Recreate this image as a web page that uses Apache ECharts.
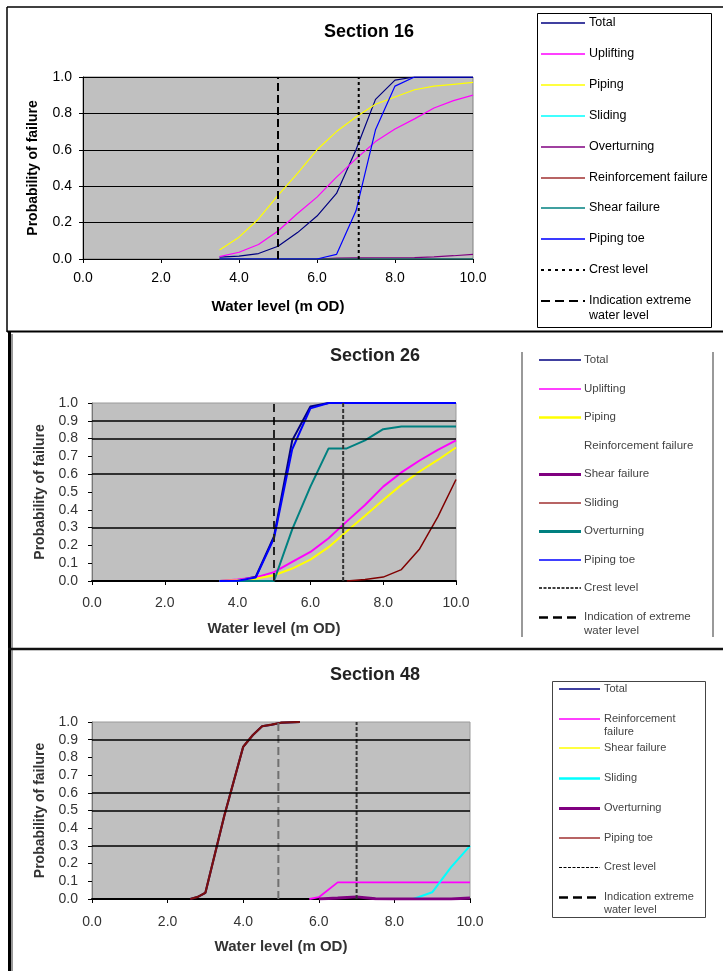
<!DOCTYPE html>
<html>
<head>
<meta charset="utf-8">
<title>Probability of failure by water level</title>
<script src="https://cdn.jsdelivr.net/npm/echarts@6/dist/echarts.min.js"></script>
<style>
  html, body { margin: 0; padding: 0; background: #fff; }
  #chart { width: 723px; height: 971px; }
</style>
</head>
<body>
<div id="chart"></div>
<script>
// ---------- Section 16 ----------
const levels16 = [3.5, 4, 4.5, 5, 5.5, 6, 6.5, 7, 7.5, 8, 8.5, 9, 9.5, 10];
const total16 = [0.01, 0.016, 0.03, 0.07, 0.145, 0.236, 0.36, 0.6, 0.877, 0.983, 1, 1, 1, 1];
const uplifting16 = [0.013, 0.037, 0.08, 0.154, 0.25, 0.34, 0.45, 0.55, 0.645, 0.714, 0.77, 0.83, 0.87, 0.9];
const piping16 = [0.05, 0.12, 0.22, 0.35, 0.47, 0.6, 0.7, 0.78, 0.85, 0.89, 0.93, 0.95, 0.96, 0.97];
const sliding16 = [0, 0, 0, 0, 0, 0, 0, 0, 0, 0, 0, 0, 0, 0];
const overturning16 = [0, 0, 0, 0, 0, 0, 0.005, 0.006, 0.007, 0.007, 0.008, 0.012, 0.018, 0.025];
const reinforcement16 = [0, 0, 0, 0, 0, 0, 0, 0, 0, 0, 0, 0, 0, 0];
const shear16 = [0, 0, 0, 0, 0, 0, 0, 0, 0, 0, 0, 0, 0, 0];
const pipingToe16 = [0, 0, 0, 0, 0, 0, 0.025, 0.265, 0.71, 0.95, 1, 1, 1, 1];
const crest16 = 7.07;
const extreme16 = 5.0;

// ---------- Section 26 ----------
const levels26 = [3.5, 4, 4.5, 5, 5.5, 6, 6.5, 7, 7.5, 8, 8.5, 9, 9.5, 10];
const total26 = [0, 0.003, 0.024, 0.25, 0.79, 0.98, 1, 1, 1, 1, 1, 1, 1, 1];
const uplifting26 = [0, 0.008, 0.02, 0.05, 0.107, 0.163, 0.24, 0.335, 0.427, 0.53, 0.61, 0.677, 0.737, 0.79];
const piping26 = [0, 0.004, 0.013, 0.032, 0.07, 0.12, 0.19, 0.28, 0.367, 0.455, 0.54, 0.615, 0.68, 0.75];
const sliding26 = [null, null, null, null, null, null, null, 0, 0.008, 0.022, 0.064, 0.18, 0.36, 0.57];
const overturning26 = [0, 0, 0, 0, 0.29, 0.53, 0.745, 0.745, 0.79, 0.853, 0.868, 0.868, 0.868, 0.868];
const pipingToe26 = [0, 0.002, 0.02, 0.24, 0.74, 0.97, 1, 1, 1, 1, 1, 1, 1, 1];
const crest26 = 6.9;
const extreme26 = 5.0;
const gridLines26 = [0.3, 0.6, 0.8, 0.9];

// ---------- Section 48 ----------
const pipingToeLevels48 = [2.6, 2.8, 3.0, 3.5, 4.0, 4.25, 4.5, 4.75, 5.0, 5.5];
const pipingToe48 = [0, 0.012, 0.035, 0.47, 0.86, 0.925, 0.976, 0.985, 0.996, 1.0];
const total48 = [0, 0.012, 0.035, 0.47, 0.86, 0.925, 0.976, 0.985, 0.996, 1.0];
const reinforcementLevels48 = [5.75, 6.0, 6.5, 7.0, 7.5, 8.0, 8.5, 9.0, 9.5, 10];
const reinforcement48 = [0, 0.01, 0.094, 0.094, 0.094, 0.094, 0.094, 0.094, 0.094, 0.094];
const slidingLevels48 = [8.5, 9.0, 9.5, 10];
const sliding48 = [0, 0.038, 0.18, 0.3];
const overturningLevels48 = [6.0, 6.5, 7.0, 7.5, 8.0, 9.5, 10];
const overturning48 = [0, 0.005, 0.012, 0.002, 0, 0, 0.005];
const crest48 = 7.0;
const extreme48 = 4.93;
const gridLines48 = [0.3, 0.5, 0.6, 0.9];

// shared axis ranges
const xRange = [0, 10];
const yRange = [0, 1];

const FONT = '"Liberation Sans", Arial, sans-serif';
const NAVY = '#000080', MAGENTA = '#FF00FF', YELLOW = '#FFFF00', CYAN = '#00FFFF',
      PURPLE = '#800080', DARKRED = '#800000', TEAL = '#008080', BLUE = '#0000FF';

const pairs = (xs, ys) => xs.map((x, i) => [x, ys[i]]);

function curve(name, gi, data, color, width, extra) {
  return Object.assign({
    name: name, type: 'line', xAxisIndex: gi, yAxisIndex: gi,
    data: data, symbol: 'none', animation: false, silent: true,
    connectNulls: false,
    lineStyle: { color: color, width: width },
    itemStyle: { color: color }
  }, extra || {});
}
function marker(name, gi, level, color, width, dash) {
  return curve(name, gi, [[level, yRange[0]], [level, yRange[1]]], color, width, {
    lineStyle: { color: color, width: width, type: dash }
  });
}
function gridRules(gi, levels) {
  return {
    name: 'rules' + gi, type: 'line', xAxisIndex: gi, yAxisIndex: gi, data: [],
    animation: false, silent: true, z: 1,
    markLine: {
      silent: true, symbol: 'none', animation: false,
      label: { show: false },
      lineStyle: { color: '#000', width: 1.5, type: 'solid' },
      data: levels.map(v => ({ yAxis: v }))
    }
  };
}

const series = [
  // Section 16
  curve('Total', 0, pairs(levels16, total16), NAVY, 1.2),
  curve('Uplifting', 0, pairs(levels16, uplifting16), MAGENTA, 1.2),
  curve('Piping', 0, pairs(levels16, piping16), YELLOW, 1.2),
  curve('Sliding', 0, pairs(levels16, sliding16), CYAN, 1.2),
  curve('Overturning', 0, pairs(levels16, overturning16), PURPLE, 1.2),
  curve('Reinforcement failure', 0, pairs(levels16, reinforcement16), DARKRED, 1.2),
  curve('Shear failure', 0, pairs(levels16, shear16), TEAL, 1.2),
  curve('Piping toe', 0, pairs(levels16, pipingToe16), BLUE, 1.2),
  marker('Crest level', 0, crest16, '#000', 2, [3, 3]),
  marker('Indication extreme water level', 0, extreme16, '#000', 2, [8, 4]),

  // Section 26
  gridRules(1, gridLines26),
  curve('Total', 1, pairs(levels26, total26), NAVY, 2),
  curve('Uplifting', 1, pairs(levels26, uplifting26), MAGENTA, 2),
  curve('Piping', 1, pairs(levels26, piping26), YELLOW, 2),
  curve('Sliding', 1, pairs(levels26, sliding26), DARKRED, 1.5),
  curve('Overturning', 1, pairs(levels26, overturning26), TEAL, 2),
  curve('Piping toe', 1, pairs(levels26, pipingToe26), BLUE, 2),
  marker('Crest level', 1, crest26, '#333', 2, [4, 2]),
  marker('Indication of extreme water level', 1, extreme26, '#222', 2, [8, 5]),

  // Section 48
  gridRules(2, gridLines48),
  curve('Total', 2, pairs(pipingToeLevels48, total48), NAVY, 2),
  curve('Reinforcement failure', 2, pairs(reinforcementLevels48, reinforcement48), MAGENTA, 1.8),
  curve('Sliding', 2, pairs(slidingLevels48, sliding48), CYAN, 2),
  curve('Overturning', 2, pairs(overturningLevels48, overturning48), PURPLE, 3),
  curve('Piping toe', 2, pairs(pipingToeLevels48, pipingToe48), '#7a0f0f', 2.2),
  marker('Crest level', 2, crest48, '#333', 2, [4, 2]),
  marker('Indication extreme water level', 2, extreme48, '#707070', 2, [8, 4])
];

function xAxisFor(gi, labelColor, margin, nameGap) {
  return {
    gridIndex: gi, type: 'value', min: xRange[0], max: xRange[1], interval: 2,
    axisLine: { show: true, onZero: false, lineStyle: { color: '#000', width: gi === 0 ? 1 : 2 } },
    axisTick: { show: true, length: 4, lineStyle: { color: '#000' } },
    axisLabel: { formatter: v => v.toFixed(1), fontSize: 14, fontFamily: FONT, color: labelColor, margin: margin },
    splitLine: { show: false },
    name: 'Water level (m OD)', nameLocation: 'middle', nameGap: nameGap,
    nameTextStyle: { fontWeight: 'bold', fontSize: 15, fontFamily: FONT, color: labelColor }
  };
}
function yAxisFor(gi, interval, labelColor, margin, nameGap, showSplit) {
  return {
    gridIndex: gi, type: 'value', min: yRange[0], max: yRange[1], interval: interval,
    axisLine: { show: true, lineStyle: { color: gi === 0 ? '#000' : '#777', width: 1 } },
    axisTick: { show: true, length: 4, lineStyle: { color: '#000' } },
    axisLabel: { formatter: v => v.toFixed(1), fontSize: 14, fontFamily: FONT, color: labelColor, margin: margin },
    splitLine: { show: showSplit, lineStyle: { color: '#000', width: 1 } },
    name: 'Probability of failure', nameLocation: 'middle', nameGap: nameGap,
    nameTextStyle: { fontWeight: 'bold', fontSize: 14, fontFamily: FONT, color: labelColor }
  };
}

// ---------- legends (drawn as graphic swatches + labels) ----------
const legendNames16 = ['Total', 'Uplifting', 'Piping', 'Sliding', 'Overturning', 'Reinforcement failure',
  'Shear failure', 'Piping toe', 'Crest level', 'Indication extreme\nwater level'];
const legendNames26 = ['Total', 'Uplifting', 'Piping', 'Reinforcement failure', 'Shear failure', 'Sliding',
  'Overturning', 'Piping toe', 'Crest level', 'Indication of extreme\nwater level'];
const legendNames48 = ['Total', 'Reinforcement\nfailure', 'Shear failure', 'Sliding', 'Overturning',
  'Piping toe', 'Crest level', 'Indication extreme\nwater level'];

const swatches16 = [
  { c: NAVY, w: 1.5 }, { c: MAGENTA, w: 1.5 }, { c: YELLOW, w: 1.5 }, { c: CYAN, w: 1.5 },
  { c: PURPLE, w: 1.5 }, { c: '#a03030', w: 1.5 }, { c: TEAL, w: 1.5 }, { c: '#3a3aff', w: 2 },
  { c: '#000', w: 2, d: [3, 4] }, { c: '#000', w: 2, d: [9, 5] }
];
const swatches26 = [
  { c: NAVY, w: 1.5 }, { c: MAGENTA, w: 1.5 }, { c: YELLOW, w: 2.5 }, null,
  { c: PURPLE, w: 3 }, { c: '#a03030', w: 1.5 }, { c: TEAL, w: 3 }, { c: BLUE, w: 1.5 },
  { c: '#000', w: 1.5, d: [3, 1.5] }, { c: '#000', w: 2.5, d: [9, 5] }
];
const swatches48 = [
  { c: NAVY, w: 1.5 }, { c: MAGENTA, w: 1.5 }, { c: YELLOW, w: 1.5 }, { c: CYAN, w: 2.5 },
  { c: PURPLE, w: 3 }, { c: '#a03030', w: 1.5 }, { c: '#000', w: 1, d: [3, 1.5] },
  { c: '#000', w: 2.5, d: [9, 5] }
];

function legendGraphics(names, swatches, cfg) {
  const out = [];
  names.forEach((name, i) => {
    const y = Math.round(cfg.y0 + i * cfg.step);
    const s = swatches[i];
    if (s) {
      const ly = y + (Math.round(s.w) % 2 === 1 ? 0.5 : 0);
      out.push({
        type: 'line', silent: true, z: 20,
        shape: { x1: cfg.x1, y1: ly, x2: cfg.x2, y2: ly },
        style: { stroke: s.c, lineWidth: s.w, lineDash: s.d || null }
      });
    }
    const lh = cfg.size + 2;
    out.push({
      type: 'text', silent: true, z: 20,
      style: {
        text: name, x: cfg.tx, y: y - lh / 2, fill: cfg.color,
        fontSize: cfg.size, fontFamily: FONT, verticalAlign: 'top', lineHeight: lh
      }
    });
  });
  return out;
}

const frameLines = [
  // Section 16 frame
  { type: 'line', shape: { x1: 7, y1: 7, x2: 723, y2: 7 }, style: { stroke: '#000', lineWidth: 1.5 } },
  { type: 'line', shape: { x1: 7, y1: 7, x2: 7, y2: 332 }, style: { stroke: '#000', lineWidth: 1.5 } },
  { type: 'line', shape: { x1: 7, y1: 331.5, x2: 723, y2: 331.5 }, style: { stroke: '#000', lineWidth: 2 } },
  { type: 'rect', shape: { x: 537.5, y: 13.5, width: 174, height: 314 }, style: { fill: null, stroke: '#000', lineWidth: 1 } },
  // Sections 26 / 48 frame
  { type: 'line', shape: { x1: 9.5, y1: 332, x2: 9.5, y2: 971 }, style: { stroke: '#000', lineWidth: 3 } },
  { type: 'line', shape: { x1: 12, y1: 334, x2: 12, y2: 971 }, style: { stroke: '#999', lineWidth: 2 } },
  { type: 'line', shape: { x1: 8, y1: 649, x2: 723, y2: 649 }, style: { stroke: '#111', lineWidth: 2.5 } },
  { type: 'line', shape: { x1: 522, y1: 352, x2: 522, y2: 637 }, style: { stroke: '#999', lineWidth: 2 } },
  { type: 'line', shape: { x1: 713, y1: 352, x2: 713, y2: 637 }, style: { stroke: '#999', lineWidth: 2 } },
  { type: 'rect', shape: { x: 552.5, y: 681.5, width: 153, height: 236 }, style: { fill: null, stroke: '#444', lineWidth: 1 } }
].map(g => Object.assign({ silent: true, z: 15 }, g));

const graphic = frameLines
  .concat(legendGraphics(legendNames16, swatches16, { x1: 541, x2: 585, tx: 589, y0: 23, step: 30.9, size: 12.5, color: '#000' }))
  .concat(legendGraphics(legendNames26, swatches26, { x1: 539, x2: 581, tx: 584, y0: 360, step: 28.5, size: 11.5, color: '#444' }))
  .concat(legendGraphics(legendNames48, swatches48, { x1: 559, x2: 600, tx: 604, y0: 689, step: 29.7, size: 11, color: '#444' }));

const option = {
  backgroundColor: '#fff',
  animation: false,
  textStyle: { fontFamily: FONT },
  title: [
    { text: 'Section 16', left: 324, top: 23, padding: 0, textStyle: { fontSize: 18, fontWeight: 'bold', color: '#000', fontFamily: FONT } },
    { text: 'Section 26', left: 330, top: 347, padding: 0, textStyle: { fontSize: 18, fontWeight: 'bold', color: '#222', fontFamily: FONT } },
    { text: 'Section 48', left: 330, top: 666, padding: 0, textStyle: { fontSize: 18, fontWeight: 'bold', color: '#222', fontFamily: FONT } }
  ],
  grid: [
    { left: 83, top: 77, width: 390, height: 182, show: true, backgroundColor: '#C0C0C0', borderColor: '#808080', borderWidth: 1 },
    { left: 92, top: 403, width: 364, height: 178, show: true, backgroundColor: '#C0C0C0', borderColor: '#9a9a9a', borderWidth: 1 },
    { left: 92, top: 722, width: 378, height: 177, show: true, backgroundColor: '#C0C0C0', borderColor: '#9a9a9a', borderWidth: 1 }
  ],
  xAxis: [
    xAxisFor(0, '#000', 12, 40),
    xAxisFor(1, '#333', 15, 40),
    xAxisFor(2, '#333', 16, 40)
  ],
  yAxis: [
    yAxisFor(0, 0.2, '#000', 11, 43, true),
    yAxisFor(1, 0.1, '#333', 14, 42, false),
    yAxisFor(2, 0.1, '#333', 14, 42, false)
  ],
  series: series,
  graphic: graphic
};

const chart = echarts.init(document.getElementById('chart'), null, { renderer: 'canvas' });
chart.setOption(option);
</script>
</body>
</html>
